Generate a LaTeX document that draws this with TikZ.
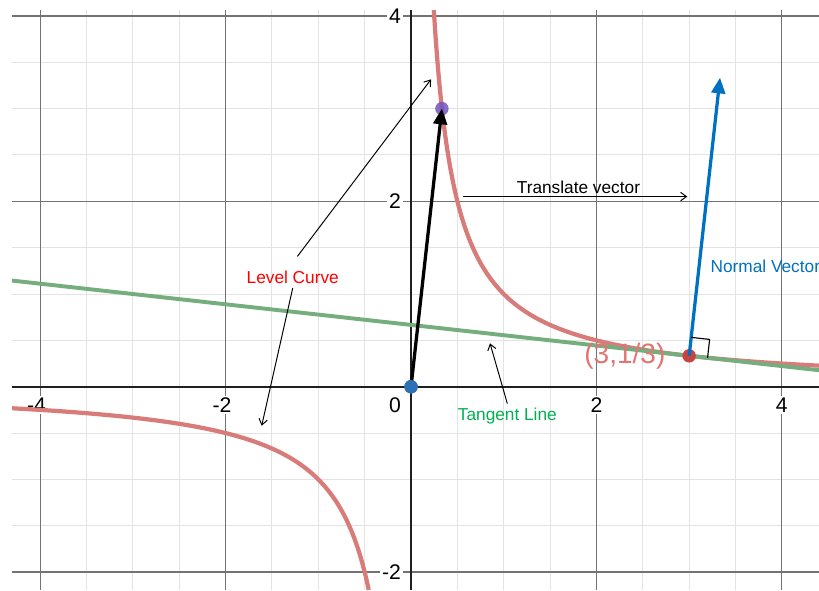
\documentclass[tikz,border=0pt]{standalone}
\usepackage{fontspec}
\setmainfont{Liberation Sans}
\usetikzlibrary{positioning, arrows.meta}

\definecolor{curvered}{RGB}{216,124,121}
\definecolor{tanggreen}{RGB}{116,174,126}
\definecolor{normblue}{RGB}{0,112,192}
\definecolor{dotblue}{RGB}{45,112,179}
\definecolor{dotpurple}{RGB}{112,84,190}
\definecolor{dotred}{RGB}{199,68,64}
\definecolor{ptlabel}{RGB}{222,118,116}
\definecolor{labred}{RGB}{255,0,0}
\definecolor{labgreen}{RGB}{0,176,80}

\begin{document}
\begin{tikzpicture}[
  x=1cm, y=1cm,
  every node/.style={font=\fontsize{5.3}{6}\selectfont, inner sep=0pt},
  tick/.style={font=\fontsize{6.5}{7}\selectfont, fill=white, inner sep=0.6pt},
  note/.style={-{Straight Barb[length=1.8pt, width=2.6pt]}, line width=0.3pt},
  vec/.style={-{Triangle[length=4.8pt, width=4.2pt]}, line width=1pt},
  dot/.style={circle, minimum size=1.45mm}
]
  \useasboundingbox (-4.434,-2.193) rectangle (4.401,4.172);

  % grid and axes
  \draw[black!11, line width=0.3pt] (-4.304,-2.193) grid[step=0.5] (4.401,4.064);
  \draw[black!55, line width=0.4pt] (-4.304,-2.193) grid[step=2] (4.401,4.064);
  \draw[black!88, line width=0.6pt] (-4.304,0) -- (4.401,0);
  \draw[black!88, line width=0.6pt] (0,-2.193) -- (0,4.064);

  \node[tick] (xm4) at (-4.04,-0.197) {-4};
  \node[tick] (xm2) at (-2.04,-0.197) {-2};
  \node[tick, anchor=east] (x0) at (-0.08,-0.197) {0};
  \node[tick] (x2) at (2,-0.197) {2};
  \node[tick] (x4) at (4,-0.197) {4};
  \node[tick, anchor=east] (y4) at (-0.08,4) {4};
  \node[tick, anchor=east] (y2) at (-0.08,2) {2};
  \node[tick, anchor=east] (ym2) at (-0.08,-2) {-2};

  % level curve xy = 1 and its tangent at (3,1/3)
  \draw[curvered, line width=1.3pt, domain=-1.402:1.482, samples=120, smooth]
    plot ({exp(\x)}, {exp(-\x)});
  \draw[curvered, line width=1.3pt, domain=-0.785:1.4595, samples=120, smooth]
    plot ({-exp(\x)}, {-exp(-\x)});
  \draw[tanggreen, line width=1.2pt] (-4.304,1.145) -- (4.401,0.178);

  \node[dot, fill=dotblue] (o) at (0,0) {};
  \node[dot, fill=dotpurple, fill opacity=0.85] (g) at (1/3,3) {};
  \node[dot, fill=dotred] (p) at (3,1/3) {};
  \coordinate (n) at (10/3,10/3);

  \draw[vec] (o.center) -- (g.center);
  \draw[vec, normblue] (p.center) -- (n);
  \draw[line width=0.35pt] (p.center) ++(0.022,0.199) -- ++(0.199,-0.022) -- ++(-0.022,-0.199);
  \node[dot, fill=dotblue] at (o) {};

  \node[left=1.7mm of p, text=ptlabel, font=\fontsize{8.6}{9}\selectfont] (plab) {(3,1/3)};

  % labels and pointers
  \node[text=labred] (lc) at (-1.276,1.180) {Level Curve};
  \coordinate (lcA) at (0.216,3.316);
  \coordinate (lcB) at (-1.611,-0.421);
  \draw[note] ([xshift=0.05cm, yshift=0.15cm]lc.north) -- (lcA);
  \draw[note] ([yshift=-0.04cm]lc.south) -- (lcB);

  \node (tv) at (1.806,2.151) {Translate vector};
  \coordinate (tvA) at (0.564,2.051);
  \coordinate (tvB) at (2.980,2.051);
  \draw[note] (tvA) -- (tvB);

  \node[text=normblue, anchor=west] (nv) at (3.225,1.299) {Normal Vector};

  \node[text=labgreen] (tl) at (1.039,-0.316) {Tangent Line};
  \coordinate (tlA) at (0.852,0.468);
  \draw[note] ([yshift=0.04cm]tl.north) -- (tlA);
\end{tikzpicture}
\end{document}
